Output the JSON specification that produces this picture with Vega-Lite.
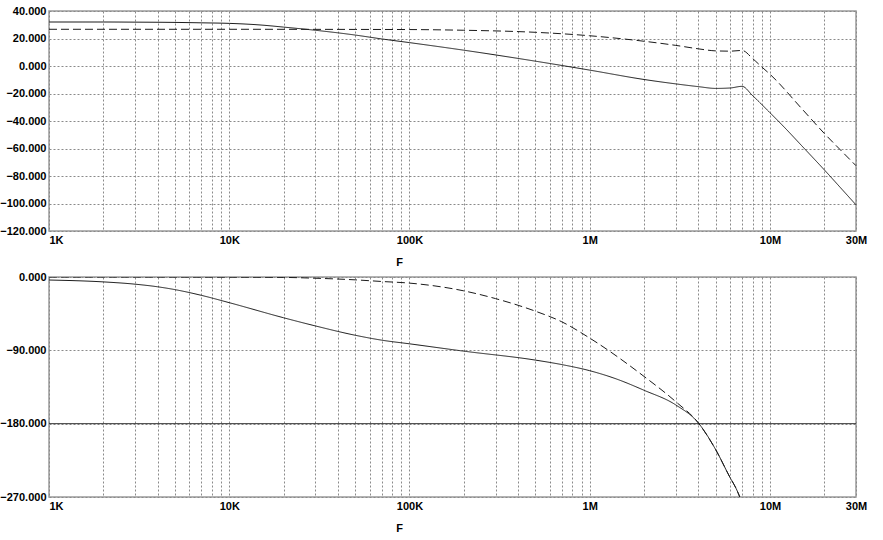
{
  "$schema": "https://vega.github.io/schema/vega-lite/v6.json",
  "background": "white",
  "padding": {"left": -1, "top": 4, "right": 0, "bottom": 0},
  "bounds": "flush",
  "spacing": 46,
  "datasets": {
    "mag": [
      {"f": 1000, "v": 32, "s": "A"}, {"f": 2000, "v": 32, "s": "A"}, {"f": 3000, "v": 31.9, "s": "A"}, {"f": 5000, "v": 31.7, "s": "A"}, {"f": 7000, "v": 31.4, "s": "A"}, {"f": 10000, "v": 31, "s": "A"}, {"f": 15000, "v": 29.8, "s": "A"}, {"f": 20000, "v": 28.3, "s": "A"}, {"f": 30000, "v": 26, "s": "A"}, {"f": 50000, "v": 22.5, "s": "A"}, {"f": 70000, "v": 19.7, "s": "A"}, {"f": 100000, "v": 17, "s": "A"}, {"f": 200000, "v": 11.5, "s": "A"}, {"f": 500000, "v": 3.5, "s": "A"}, {"f": 1000000, "v": -3, "s": "A"}, {"f": 2000000, "v": -9.8, "s": "A"}, {"f": 3000000, "v": -13, "s": "A"}, {"f": 4000000, "v": -15, "s": "A"}, {"f": 5000000, "v": -16.3, "s": "A"}, {"f": 6000000, "v": -16, "s": "A"}, {"f": 7000000, "v": -14.8, "s": "A"}, {"f": 8000000, "v": -21.5, "s": "A"}, {"f": 10000000, "v": -34, "s": "A"}, {"f": 12000000, "v": -44.5, "s": "A"}, {"f": 15000000, "v": -58, "s": "A"}, {"f": 20000000, "v": -75.5, "s": "A"}, {"f": 25000000, "v": -89.5, "s": "A"}, {"f": 30000000, "v": -101, "s": "A"},
      {"f": 1000, "v": 26.7, "s": "B"}, {"f": 10000, "v": 26.7, "s": "B"}, {"f": 50000, "v": 26.6, "s": "B"}, {"f": 100000, "v": 26.5, "s": "B"}, {"f": 200000, "v": 26, "s": "B"}, {"f": 500000, "v": 24.5, "s": "B"}, {"f": 1000000, "v": 22, "s": "B"}, {"f": 2000000, "v": 18, "s": "B"}, {"f": 3000000, "v": 15, "s": "B"}, {"f": 4000000, "v": 12.5, "s": "B"}, {"f": 5000000, "v": 11, "s": "B"}, {"f": 6000000, "v": 10.8, "s": "B"}, {"f": 7000000, "v": 11.3, "s": "B"}, {"f": 8000000, "v": 5.5, "s": "B"}, {"f": 9000000, "v": -0.7, "s": "B"}, {"f": 10000000, "v": -6, "s": "B"}, {"f": 15000000, "v": -31, "s": "B"}, {"f": 20000000, "v": -49, "s": "B"}, {"f": 25000000, "v": -62, "s": "B"}, {"f": 30000000, "v": -72.5, "s": "B"}
    ],
    "phase": [
      {"f": 1000, "v": -3.7, "s": "A"}, {"f": 2000, "v": -6, "s": "A"}, {"f": 3000, "v": -8.8, "s": "A"}, {"f": 4000, "v": -12, "s": "A"}, {"f": 5000, "v": -15.5, "s": "A"}, {"f": 7000, "v": -22.5, "s": "A"}, {"f": 10000, "v": -31.5, "s": "A"}, {"f": 20000, "v": -50, "s": "A"}, {"f": 30000, "v": -60, "s": "A"}, {"f": 50000, "v": -71.5, "s": "A"}, {"f": 70000, "v": -77.5, "s": "A"}, {"f": 100000, "v": -82, "s": "A"}, {"f": 200000, "v": -91, "s": "A"}, {"f": 500000, "v": -102, "s": "A"}, {"f": 700000, "v": -107.5, "s": "A"}, {"f": 1000000, "v": -115, "s": "A"}, {"f": 1400000, "v": -125, "s": "A"}, {"f": 2000000, "v": -139, "s": "A"}, {"f": 3000000, "v": -157, "s": "A"}, {"f": 4000000, "v": -179, "s": "A"}, {"f": 5000000, "v": -212, "s": "A"}, {"f": 6000000, "v": -246, "s": "A"}, {"f": 6500000, "v": -260, "s": "A"}, {"f": 6800000, "v": -270, "s": "A"},
      {"f": 1000, "v": 0, "s": "B"}, {"f": 10000, "v": -0.2, "s": "B"}, {"f": 20000, "v": -0.5, "s": "B"}, {"f": 30000, "v": -1.5, "s": "B"}, {"f": 50000, "v": -3.5, "s": "B"}, {"f": 70000, "v": -5.5, "s": "B"}, {"f": 100000, "v": -7.5, "s": "B"}, {"f": 200000, "v": -17, "s": "B"}, {"f": 300000, "v": -26.5, "s": "B"}, {"f": 500000, "v": -42, "s": "B"}, {"f": 700000, "v": -55, "s": "B"}, {"f": 1000000, "v": -75, "s": "B"}, {"f": 2000000, "v": -122, "s": "B"}, {"f": 3000000, "v": -153, "s": "B"}, {"f": 4000000, "v": -179, "s": "B"}, {"f": 5000000, "v": -212, "s": "B"}, {"f": 6000000, "v": -246, "s": "B"}, {"f": 6500000, "v": -260, "s": "B"}, {"f": 6800000, "v": -270, "s": "B"}
    ]
  },
  "config": {
    "view": {"stroke": "#9a9a9a", "strokeWidth": 1.5},
    "axis": {
      "domain": false,
      "ticks": false,
      "tickSize": 0,
      "labelFont": "Liberation Sans",
      "labelFontWeight": "bold",
      "labelFontSize": 11,
      "labelColor": "#000000",
      "gridColor": "#8a8a8a",
      "gridDash": [2, 2],
      "gridWidth": 1,
      "titleFont": "Liberation Sans",
      "titleFontWeight": "bold",
      "titleFontSize": 11,
      "titleColor": "#000000"
    }
  },
  "vconcat": [
    {
      "width": 807,
      "height": 220,
      "data": {"name": "mag"},
      "layer": [
        {
          "mark": {"type": "line", "color": "#1a1a1a", "strokeWidth": 1, "interpolate": "monotone"},
          "encoding": {
            "x": {
              "field": "f", "type": "quantitative",
              "scale": {"type": "log", "domain": [1000, 30000000], "nice": false},
              "axis": {
                "values": [1000,2000,3000,4000,5000,6000,7000,8000,9000,10000,20000,30000,40000,50000,60000,70000,80000,90000,100000,200000,300000,400000,500000,600000,700000,800000,900000,1000000,2000000,3000000,4000000,5000000,6000000,7000000,8000000,9000000,10000000,20000000,30000000],
                "labelExpr": "datum.value == 1000 ? '1K' : datum.value == 10000 ? '10K' : datum.value == 100000 ? '100K' : datum.value == 1000000 ? '1M' : datum.value == 10000000 ? '10M' : datum.value == 30000000 ? '30M' : ''",
                "labelAlign": {"condition": {"test": "datum.value == 1000", "value": "left"}, "value": "center"},
                "labelFlush": false,
                "labelOverlap": false,
                "labelBound": false,
                "labelPadding": 3,
                "title": "F",
                "titleX": 350,
                "titleY": 31,
                "titleAlign": "center",
                "titleBaseline": "middle"
              }
            },
            "y": {
              "field": "v", "type": "quantitative",
              "scale": {"domain": [-120, 40], "nice": false, "zero": false},
              "axis": {"values": [-120,-100,-80,-60,-40,-20,0,20,40], "format": ".3f", "title": null, "labelPadding": 3}
            },
            "strokeDash": {
              "field": "s", "type": "nominal",
              "scale": {"domain": ["A", "B"], "range": [[1, 0], [8, 4]]},
              "legend": null
            }
          }
        }
      ]
    },
    {
      "width": 807,
      "height": 220,
      "layer": [
        {
          "data": {"values": [{"r": -180}]},
          "mark": {"type": "rule", "color": "#333333", "strokeWidth": 1},
          "encoding": {"y": {"field": "r", "type": "quantitative"}}
        },
        {
          "data": {"name": "phase"},
          "mark": {"type": "line", "color": "#1a1a1a", "strokeWidth": 1, "interpolate": "monotone", "clip": true},
          "encoding": {
            "x": {
              "field": "f", "type": "quantitative",
              "scale": {"type": "log", "domain": [1000, 30000000], "nice": false},
              "axis": {
                "values": [1000,2000,3000,4000,5000,6000,7000,8000,9000,10000,20000,30000,40000,50000,60000,70000,80000,90000,100000,200000,300000,400000,500000,600000,700000,800000,900000,1000000,2000000,3000000,4000000,5000000,6000000,7000000,8000000,9000000,10000000,20000000,30000000],
                "labelExpr": "datum.value == 1000 ? '1K' : datum.value == 10000 ? '10K' : datum.value == 100000 ? '100K' : datum.value == 1000000 ? '1M' : datum.value == 10000000 ? '10M' : datum.value == 30000000 ? '30M' : ''",
                "labelAlign": {"condition": {"test": "datum.value == 1000", "value": "left"}, "value": "center"},
                "labelFlush": false,
                "labelOverlap": false,
                "labelBound": false,
                "labelPadding": 3,
                "title": "F",
                "titleX": 350,
                "titleY": 31,
                "titleAlign": "center",
                "titleBaseline": "middle"
              }
            },
            "y": {
              "field": "v", "type": "quantitative",
              "scale": {"domain": [-270, 0], "nice": false, "zero": false},
              "axis": {"values": [-270,-180,-90,0], "format": ".3f", "title": null, "labelPadding": 3}
            },
            "strokeDash": {
              "field": "s", "type": "nominal",
              "scale": {"domain": ["A", "B"], "range": [[1, 0], [8, 4]]},
              "legend": null
            }
          }
        }
      ]
    }
  ]
}
